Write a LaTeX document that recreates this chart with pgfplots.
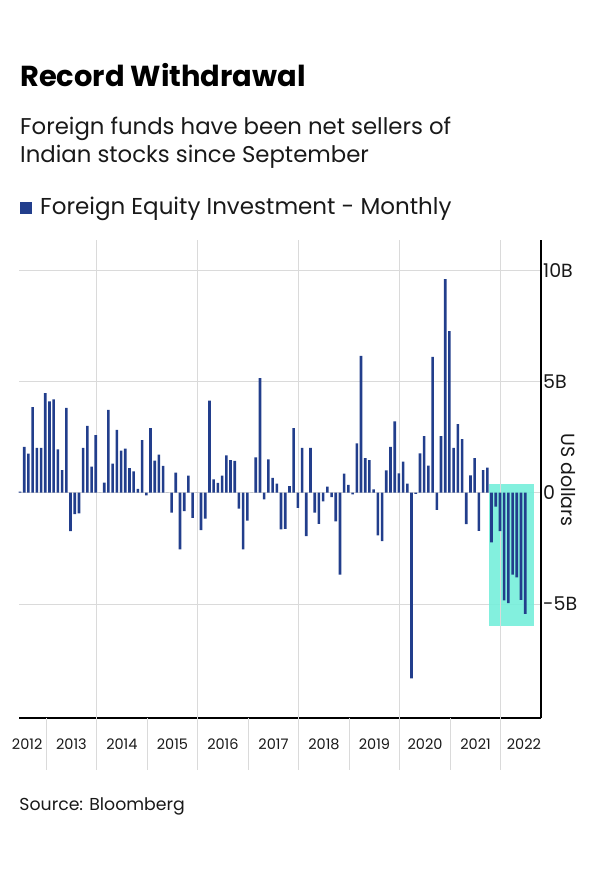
\documentclass[border=0pt]{standalone}
\usepackage{fontspec}
\setmainfont{Poppins}
\usepackage{pgfplots}
\pgfplotsset{compat=1.18}
\usepackage{pgfplotstable}
\definecolor{barblue}{RGB}{34,62,140}
\definecolor{hl}{RGB}{118,238,218}
\definecolor{gridgray}{RGB}{218,218,218}

% monthly foreign equity flows, Jun 2012 (i=0) .. Jun 2022 (i=120), US$ bn
\pgfplotstableread{
i v
0 0.05
1 2.06
2 1.76
3 3.84
4 2.01
5 2.01
6 4.47
7 4.10
8 4.19
9 1.94
10 1.01
11 3.81
12 -1.73
13 -0.96
14 -0.93
15 2.01
16 3.00
17 1.17
18 2.58
19 0.00
20 0.45
21 3.72
22 1.31
23 2.82
24 1.89
25 1.98
26 1.10
27 0.96
28 0.17
29 2.36
30 -0.12
31 2.90
32 1.44
33 1.71
34 1.20
35 0.00
36 -0.90
37 0.90
38 -2.55
39 -0.83
40 0.77
41 -1.13
42 0.00
43 -1.68
44 -1.16
45 4.14
46 0.60
47 0.44
48 0.77
49 1.68
50 1.46
51 1.43
52 -0.72
53 -2.55
54 -1.25
55 0.00
56 1.59
57 5.14
58 -0.30
59 1.50
60 0.66
61 0.41
62 -1.65
63 -1.62
64 0.30
65 2.90
66 -0.68
67 2.01
68 -1.95
69 2.01
70 -0.90
71 -1.40
72 -0.39
73 0.27
74 -0.20
75 -1.29
76 -3.68
77 0.86
78 0.35
79 -0.08
80 2.21
81 6.14
82 1.55
83 1.46
84 0.15
85 -1.92
86 -2.18
87 1.00
88 2.06
89 3.20
90 0.87
91 1.40
92 0.41
93 -8.34
94 -0.05
95 1.77
96 2.54
97 1.22
98 6.10
99 -0.77
100 2.54
101 9.59
102 7.26
103 2.01
104 3.08
105 2.41
106 -1.41
107 0.78
108 1.55
109 -1.71
110 1.01
111 1.13
112 -2.23
113 -0.63
114 -1.73
115 -4.84
116 -4.96
117 -3.68
118 -3.80
119 -4.81
120 -5.44
}\fpidata

\pgfplotstableread{
x y
111.5 0.38
122.1 0.38
122.1 -5.97
111.5 -5.97
}\hlbox

\begin{document}
\begin{tikzpicture}[x=1pt,y=1pt]
\path[use as bounding box] (0,0) rectangle (600,869);
\node[anchor=base west, inner sep=0pt, font=\fontsize{28.9}{32}\selectfont\bfseries] at (20,782.3) {Record Withdrawal};
\node[anchor=base west, inner sep=0pt, font=\fontsize{22.8}{26}\selectfont, color=black!90] at (20,734) {Foreign funds have been net sellers of};
\node[anchor=base west, inner sep=0pt, font=\fontsize{22.8}{26}\selectfont, color=black!90] at (20,706.3) {Indian stocks since September};
\fill[barblue] (19.5,654.5) rectangle (32,667);
\node[anchor=base west, inner sep=0pt, font=\fontsize{23}{26}\selectfont, color=black!90] at (40,654.7) {Foreign Equity Investment - Monthly};
\node[anchor=base west, inner sep=0pt, font=\fontsize{17.3}{20}\selectfont, color=black!90] at (19.3,58.3) {Source: Bloomberg};
\node[rotate=-90, inner sep=0pt, font=\fontsize{19}{22}\selectfont, color=black!90] at (568,389) {US dollars};
\begin{axis}[
  at={(19pt,151pt)}, anchor=south west,
  width=522pt, height=478pt, scale only axis,
  xmin=-0.24, xmax=123.75, ymin=-10.12, ymax=11.35,
  clip=false,
  axis x line*=bottom, axis y line*=right,
  axis line style={-, line width=1.4pt, black},
  ytick={-5,0,5,10}, yticklabels={-5B,0,5B,10B},
  ymajorgrids=true,
  grid style={gridgray, line width=0.8pt},
  major tick length=0pt,
  yticklabel style={anchor=west, inner sep=0pt, xshift=2pt, font=\fontsize{19}{22}\selectfont, color=black!90},
  xtick={1.7,12.2,24.2,36.2,48.2,60.2,72.2,84.2,96.2,108.2,119.7},
  xticklabels={2012,2013,2014,2015,2016,2017,2018,2019,2020,2021,2022},
  xticklabel style={anchor=base, inner sep=0pt, yshift=-31.3pt, font=\fontsize{14.5}{16}\selectfont, color=black!90},
]
\addplot[fill=hl, draw=none, fill opacity=0.9] table[x=x,y=y]{\hlbox} -- cycle;
\pgfplotsinvokeforeach{18.2,42.2,66.2,90.2,114.2}{
  \draw[gridgray, line width=0.8pt] (axis cs:#1,-10.12) -- (axis cs:#1,11.35);
}
\pgfplotsinvokeforeach{6.2,18.2,30.2,42.2,54.2,66.2,78.2,90.2,102.2,114.2}{
  \draw[gridgray, line width=0.8pt] (axis cs:#1,-10.12) -- ++(0pt,-52pt);
}
\addplot[ybar, bar width=2.6pt, fill=barblue, draw=none] table[x=i,y=v]{\fpidata};
\end{axis}
\end{tikzpicture}
\end{document}
